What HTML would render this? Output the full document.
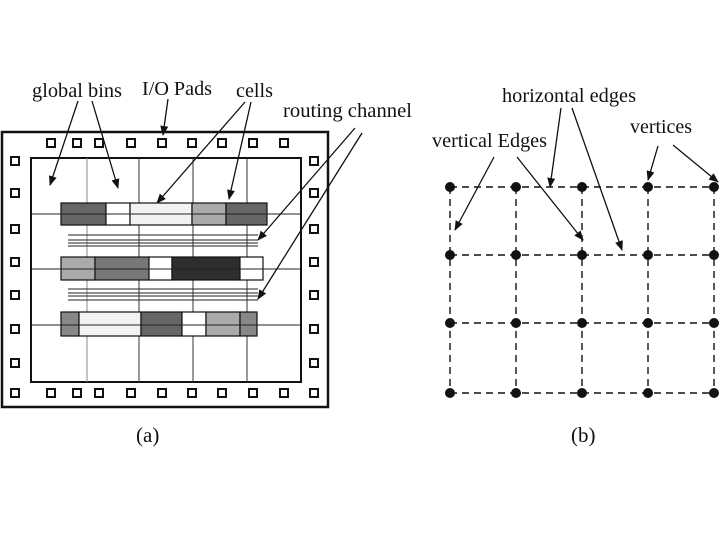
<!DOCTYPE html>
<html><head><style>body{margin:0;background:#fff}svg{display:block}text{font-family:"Liberation Serif",serif;fill:#111}</style></head><body>
<svg width="720" height="540" viewBox="0 0 720 540" xmlns="http://www.w3.org/2000/svg">
<defs><marker id="ah" markerWidth="10" markerHeight="8" refX="9" refY="4" orient="auto" markerUnits="userSpaceOnUse"><path d="M0,0 L10,4 L0,8 Z" fill="#111"/></marker></defs>
<g font-size="20.5">
<text x="32" y="97" textLength="90" lengthAdjust="spacingAndGlyphs">global bins</text>
<text x="142" y="95" textLength="70" lengthAdjust="spacingAndGlyphs">I/O Pads</text>
<text x="236" y="97" textLength="37" lengthAdjust="spacingAndGlyphs">cells</text>
<text x="283" y="117" textLength="129" lengthAdjust="spacingAndGlyphs">routing channel</text>
<text x="502" y="102" textLength="134" lengthAdjust="spacingAndGlyphs">horizontal edges</text>
<text x="432" y="147" textLength="115" lengthAdjust="spacingAndGlyphs">vertical Edges</text>
<text x="630" y="133" textLength="62" lengthAdjust="spacingAndGlyphs">vertices</text>
</g>
<text x="136" y="442" font-size="21">(a)</text>
<text x="571" y="442" font-size="21">(b)</text>
<rect x="2" y="132" width="326" height="275" fill="none" stroke="#111" stroke-width="2.5"/>
<rect x="31" y="158" width="270" height="224" fill="none" stroke="#111" stroke-width="2"/>
<g stroke="#333" stroke-width="1">
<line x1="87" y1="158" x2="87" y2="382" stroke="#888"/><line x1="139" y1="158" x2="139" y2="382"/><line x1="193" y1="158" x2="193" y2="382"/><line x1="247" y1="158" x2="247" y2="382"/>
</g>
<g stroke="#111" stroke-width="1.2">
<rect x="61" y="203" width="45" height="22" fill="#666"/><rect x="106" y="203" width="24" height="22" fill="#fff"/><rect x="130" y="203" width="62" height="22" fill="#f2f2f2"/><rect x="192" y="203" width="34" height="22" fill="#aaa"/><rect x="226" y="203" width="41" height="22" fill="#666"/>
<rect x="61" y="257" width="34" height="23" fill="#aaa"/><rect x="95" y="257" width="54" height="23" fill="#777"/><rect x="149" y="257" width="23" height="23" fill="#fff"/><rect x="172" y="257" width="68" height="23" fill="#2e2e2e"/><rect x="240" y="257" width="23" height="23" fill="#fff"/>
<rect x="61" y="312" width="18" height="24" fill="#888"/><rect x="79" y="312" width="62" height="24" fill="#f2f2f2"/><rect x="141" y="312" width="41" height="24" fill="#666"/><rect x="182" y="312" width="24" height="24" fill="#fff"/><rect x="206" y="312" width="34" height="24" fill="#aaa"/><rect x="240" y="312" width="17" height="24" fill="#888"/>
</g>
<g stroke="#222" stroke-width="1">
<line x1="31" y1="214" x2="301" y2="214"/><line x1="31" y1="269" x2="301" y2="269"/><line x1="31" y1="325" x2="301" y2="325"/>
<line x1="68" y1="235" x2="258" y2="235"/><line x1="68" y1="240" x2="258" y2="240"/><line x1="68" y1="243" x2="258" y2="243"/><line x1="68" y1="246" x2="258" y2="246"/>
<line x1="68" y1="289" x2="258" y2="289"/><line x1="68" y1="293" x2="258" y2="293"/><line x1="68" y1="296" x2="258" y2="296"/><line x1="68" y1="300" x2="258" y2="300"/>
</g>
<g fill="#fff" stroke="#111" stroke-width="2">
<rect x="47" y="139" width="8" height="8"/><rect x="73" y="139" width="8" height="8"/><rect x="95" y="139" width="8" height="8"/><rect x="127" y="139" width="8" height="8"/><rect x="158" y="139" width="8" height="8"/><rect x="188" y="139" width="8" height="8"/><rect x="218" y="139" width="8" height="8"/><rect x="249" y="139" width="8" height="8"/><rect x="280" y="139" width="8" height="8"/>
<rect x="11" y="389" width="8" height="8"/><rect x="47" y="389" width="8" height="8"/><rect x="73" y="389" width="8" height="8"/><rect x="95" y="389" width="8" height="8"/><rect x="127" y="389" width="8" height="8"/><rect x="158" y="389" width="8" height="8"/><rect x="188" y="389" width="8" height="8"/><rect x="218" y="389" width="8" height="8"/><rect x="249" y="389" width="8" height="8"/><rect x="280" y="389" width="8" height="8"/><rect x="310" y="389" width="8" height="8"/>
<rect x="11" y="157" width="8" height="8"/><rect x="11" y="189" width="8" height="8"/><rect x="11" y="225" width="8" height="8"/><rect x="11" y="258" width="8" height="8"/><rect x="11" y="291" width="8" height="8"/><rect x="11" y="325" width="8" height="8"/><rect x="11" y="359" width="8" height="8"/>
<rect x="310" y="157" width="8" height="8"/><rect x="310" y="189" width="8" height="8"/><rect x="310" y="225" width="8" height="8"/><rect x="310" y="258" width="8" height="8"/><rect x="310" y="291" width="8" height="8"/><rect x="310" y="325" width="8" height="8"/><rect x="310" y="359" width="8" height="8"/>
</g>
<g stroke="#111" stroke-width="1.3" marker-end="url(#ah)">
<line x1="78" y1="101" x2="50" y2="185"/><line x1="92" y1="101" x2="118" y2="188"/>
<line x1="168" y1="99" x2="163" y2="135"/>
<line x1="245" y1="102" x2="157" y2="203"/><line x1="251" y1="102" x2="229" y2="199"/>
<line x1="355" y1="128" x2="258" y2="240"/><line x1="362" y1="133" x2="258" y2="299"/>
<line x1="494" y1="157" x2="455" y2="230"/><line x1="517" y1="157" x2="583" y2="240"/>
<line x1="561" y1="108" x2="550" y2="187"/><line x1="572" y1="108" x2="622" y2="250"/>
<line x1="658" y1="146" x2="648" y2="180"/><line x1="673" y1="145" x2="718" y2="182"/>
</g>
<g stroke="#111" stroke-width="1.4" stroke-dasharray="7,5">
<line x1="450" y1="187" x2="714" y2="187"/><line x1="450" y1="255" x2="714" y2="255"/><line x1="450" y1="323" x2="714" y2="323"/><line x1="450" y1="393" x2="714" y2="393"/>
<line x1="450" y1="187" x2="450" y2="393"/><line x1="516" y1="187" x2="516" y2="393"/><line x1="582" y1="187" x2="582" y2="393"/><line x1="648" y1="187" x2="648" y2="393"/><line x1="714" y1="187" x2="714" y2="393"/>
</g>
<g fill="#111">
<circle cx="450" cy="187" r="5"/><circle cx="516" cy="187" r="5"/><circle cx="582" cy="187" r="5"/><circle cx="648" cy="187" r="5"/><circle cx="714" cy="187" r="5"/>
<circle cx="450" cy="255" r="5"/><circle cx="516" cy="255" r="5"/><circle cx="582" cy="255" r="5"/><circle cx="648" cy="255" r="5"/><circle cx="714" cy="255" r="5"/>
<circle cx="450" cy="323" r="5"/><circle cx="516" cy="323" r="5"/><circle cx="582" cy="323" r="5"/><circle cx="648" cy="323" r="5"/><circle cx="714" cy="323" r="5"/>
<circle cx="450" cy="393" r="5"/><circle cx="516" cy="393" r="5"/><circle cx="582" cy="393" r="5"/><circle cx="648" cy="393" r="5"/><circle cx="714" cy="393" r="5"/>
</g>
</svg>
</body></html>
